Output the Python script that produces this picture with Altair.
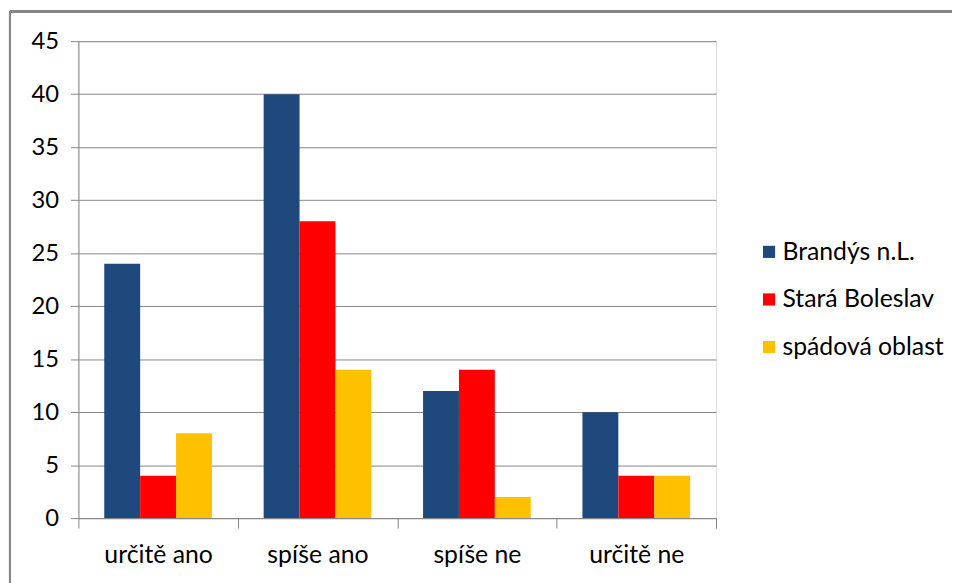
import altair as alt
import pandas as pd

categories = ["určitě ano", "spíše ano", "spíše ne", "určitě ne"]
series = ["Brandýs n.L.", "Stará Boleslav", "spádová oblast"]
brandys = [24, 40, 12, 10]
stara = [4, 28, 14, 4]
spadova = [8, 14, 2, 4]
colors = ["#1F497D", "#FF0000", "#FFC000"]

rows = []
for s, vals in zip(series, [brandys, stara, spadova]):
    for c, v in zip(categories, vals):
        rows.append({"kategorie": c, "serie": s, "hodnota": v})
df = pd.DataFrame(rows)

FONT = "Lato"
W, H = 643, 481

bars = alt.Chart(df).mark_bar().encode(
    x=alt.X("kategorie:N", sort=categories, title=None,
            scale=alt.Scale(paddingInner=0, paddingOuter=0),
            axis=alt.Axis(labelAngle=0, tickBand="extent", domainColor="#868686",
                          tickColor="#868686", tickSize=10, labelPadding=15,
                          labelFont=FONT, labelFontSize=25, labelColor="#000000")),
    xOffset=alt.XOffset("serie:N", sort=series,
                        scale=alt.Scale(paddingInner=0, paddingOuter=0.72)),
    y=alt.Y("hodnota:Q", title=None,
            scale=alt.Scale(domain=[0, 45], nice=False),
            axis=alt.Axis(values=list(range(0, 50, 5)), gridColor="#868686",
                          domainColor="#868686", tickColor="#868686", tickSize=8,
                          labelPadding=12, labelFont=FONT, labelFontSize=24,
                          labelColor="#000000")),
    color=alt.Color("serie:N", sort=series,
                    scale=alt.Scale(domain=series, range=colors),
                    legend=alt.Legend(title=None, orient="none", legendX=684, legendY=200,
                                      symbolType="square", symbolSize=150,
                                      symbolStrokeWidth=0, labelFont=FONT,
                                      labelFontSize=25, labelColor="#000000",
                                      labelLimit=400, rowPadding=22, labelOffset=1)),
)

border_left = alt.Chart(df).mark_rule(color="#868686", strokeWidth=2, clip=False).encode(
    x=alt.value(-69), y=alt.value(-30), y2=alt.value(H + 120))
border_top = alt.Chart(df).mark_rule(color="#868686", strokeWidth=2, clip=False).encode(
    x=alt.value(-69), x2=alt.value(W + 400), y=alt.value(-30))

chart = alt.layer(bars, border_left, border_top).properties(
    width=W, height=H,
    autosize=alt.AutoSizeParams(type="none"),
    padding={"left": 71, "top": 31, "right": 238, "bottom": 65},
).configure_view(stroke=None).configure(background="white")

chart.save("out.html", embed_options={"renderer": "svg", "actions": False})
